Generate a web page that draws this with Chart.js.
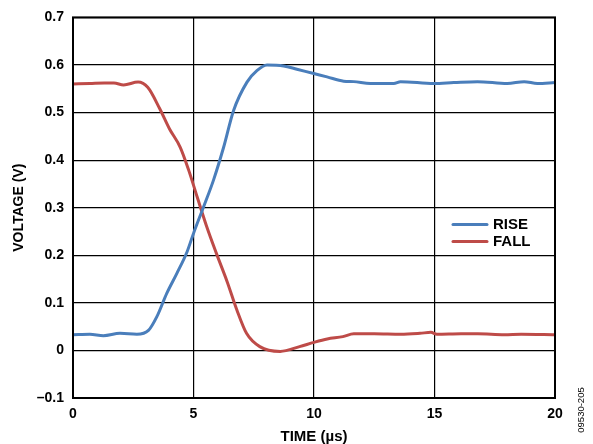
<!DOCTYPE html>
<html>
<head>
<meta charset="utf-8">
<script src="https://cdn.jsdelivr.net/npm/chart.js@4/dist/chart.umd.min.js"></script>
<style>
  html, body { margin: 0; padding: 0; background: #fff; }
  canvas { display: block; }
</style>
</head>
<body>
<canvas id="c" width="593" height="444"></canvas>
<script>
const seriesLabels = ['RISE', 'FALL'];
const riseX = [0, 0.7, 1.26, 1.95, 2.65, 3.13, 3.48, 3.89, 4.31, 4.73, 5.0, 5.42, 5.83, 6.25, 6.66, 7.22, 7.63, 8.05, 8.74, 9.29, 9.99, 10.54, 11.23, 11.65, 12.34, 13.31, 13.59, 14.97, 15.8, 16.78, 18.02, 18.72, 19.27, 20];
const riseY = [0.033, 0.034, 0.031, 0.036, 0.034, 0.042, 0.071, 0.120, 0.162, 0.207, 0.246, 0.302, 0.358, 0.427, 0.504, 0.564, 0.588, 0.600, 0.598, 0.591, 0.582, 0.575, 0.566, 0.565, 0.561, 0.561, 0.565, 0.561, 0.563, 0.565, 0.561, 0.565, 0.561, 0.563];
const fallX = [0, 0.7, 1.3, 1.7, 2.1, 2.7, 3.1, 3.6, 4.0, 4.45, 4.8, 5.15, 5.55, 5.95, 6.4, 6.8, 7.2, 7.75, 8.6, 9.4, 10.0, 10.55, 11.2, 11.65, 12.5, 13.6, 14.4, 14.85, 15.1, 16.1, 16.8, 17.9, 18.6, 20];
const fallY = [0.560, 0.561, 0.562, 0.562, 0.558, 0.564, 0.553, 0.508, 0.466, 0.427, 0.379, 0.323, 0.260, 0.204, 0.144, 0.085, 0.036, 0.008, -0.002, 0.008, 0.017, 0.024, 0.029, 0.035, 0.035, 0.034, 0.036, 0.038, 0.034, 0.035, 0.035, 0.033, 0.034, 0.033];
const xTicks = [0, 5, 10, 15, 20];
const yTicks = [-0.1, 0, 0.1, 0.2, 0.3, 0.4, 0.5, 0.6, 0.7];
const xTitle = 'TIME (µs)';
const yTitle = 'VOLTAGE (V)';
const figureCode = '09530-205';

const colors = ['#4a7ebb', '#be4b48'];
const FONT = '"Liberation Sans", Arial, sans-serif';

function pts(xs, ys) { return xs.map((x, i) => ({ x: x, y: ys[i] })); }

function fmtY(v) {
  if (Math.abs(v) < 1e-9) return '0';
  if (v < 0) return '\u2013' + Math.abs(v).toFixed(1);
  return v.toFixed(1);
}

const frame = {
  id: 'frame',
  afterDatasetsDraw(chart) {
    const { ctx, chartArea: a } = chart;
    ctx.save();
    ctx.strokeStyle = '#000';
    ctx.lineWidth = 2;
    ctx.strokeRect(a.left, a.top, a.right - a.left, a.bottom - a.top);
    // legend inside plot
    const ds = chart.data.datasets;
    const lx0 = a.right - 102, lx1 = a.right - 68, tx = a.right - 62;
    const ly = [a.top + 207, a.top + 224];
    ctx.font = 'bold 15px ' + FONT;
    ctx.textBaseline = 'middle';
    ctx.textAlign = 'left';
    ds.forEach((d, i) => {
      ctx.strokeStyle = d.borderColor;
      ctx.lineWidth = 3;
      ctx.lineCap = 'round';
      ctx.beginPath();
      ctx.moveTo(lx0, ly[i]);
      ctx.lineTo(lx1, ly[i]);
      ctx.stroke();
      ctx.fillStyle = '#000';
      ctx.fillText(d.label, tx, ly[i] + 0.5);
    });
    // figure code
    ctx.translate(581, 410);
    ctx.rotate(-Math.PI / 2);
    ctx.font = '9.5px ' + FONT;
    ctx.textAlign = 'center';
    ctx.fillStyle = '#000';
    ctx.fillText(figureCode, 0, 0);
    ctx.restore();
  }
};

new Chart(document.getElementById('c'), {
  type: 'line',
  data: {
    datasets: [
      { label: seriesLabels[0], data: pts(riseX, riseY), borderColor: colors[0], backgroundColor: colors[0] },
      { label: seriesLabels[1], data: pts(fallX, fallY), borderColor: colors[1], backgroundColor: colors[1] }
    ]
  },
  options: {
    responsive: false,
    animation: false,
    layout: { padding: { left: 0, top: 16, right: 38, bottom: 0 } },
    elements: {
      point: { radius: 0 },
      line: { borderWidth: 3, cubicInterpolationMode: 'monotone', borderCapStyle: 'round', borderJoinStyle: 'round' }
    },
    plugins: { legend: { display: false }, tooltip: { enabled: false } },
    scales: {
      x: {
        type: 'linear',
        min: xTicks[0], max: xTicks[xTicks.length - 1],
        afterBuildTicks: s => { s.ticks = xTicks.map(v => ({ value: v })); },
        afterFit: s => { s.height = 46; },
        ticks: { color: '#000', font: { family: FONT, size: 14, weight: 'bold' }, padding: 8, maxRotation: 0 },
        grid: { color: '#000', lineWidth: 1.2, drawTicks: false },
        border: { display: false },
        title: { display: true, text: xTitle, color: '#000', font: { family: FONT, size: 15, weight: 'bold' }, padding: { top: 0, bottom: -2 } }
      },
      y: {
        min: yTicks[0], max: yTicks[yTicks.length - 1],
        afterBuildTicks: s => { s.ticks = yTicks.map(v => ({ value: v })); },
        afterFit: s => { s.width = 73; },
        ticks: { color: '#000', font: { family: FONT, size: 14, weight: 'bold' }, padding: 9, callback: v => fmtY(v) },
        grid: { color: '#000', lineWidth: 1.2, drawTicks: false },
        border: { display: false },
        title: { display: true, text: yTitle, color: '#000', font: { family: FONT, size: 14, weight: 'bold' }, padding: { top: 11, bottom: 0 } }
      }
    }
  },
  plugins: [frame]
});
</script>
</body>
</html>
